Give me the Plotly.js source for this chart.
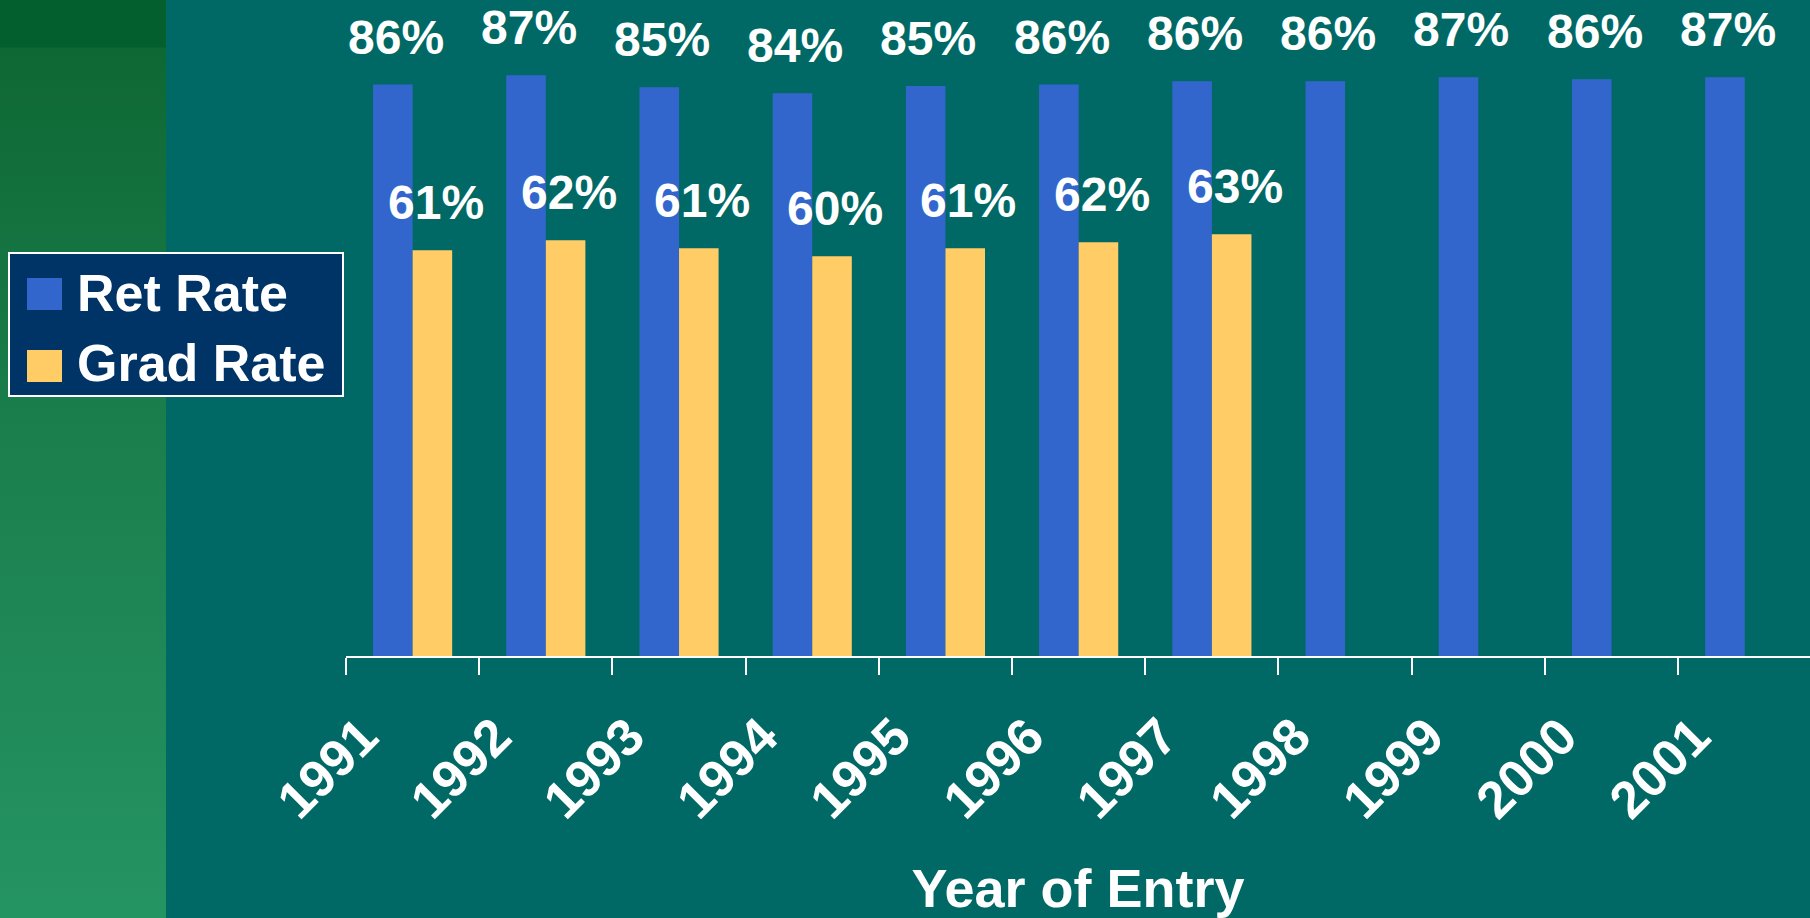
<!DOCTYPE html>
<html>
<head>
<meta charset="utf-8">
<script src="https://cdn.plot.ly/plotly-3.0.1.min.js"></script>
<style>
  html, body { margin: 0; padding: 0; width: 1810px; height: 918px; overflow: hidden; }
  body {
    background:
      linear-gradient(to bottom, #045f2e 0px, #045f2e 47px, #0e6833 48px, #1a7e4c 420px, #259463 918px) no-repeat 0 0 / 166px 918px,
      #006966;
  }
  #chart { width: 1810px; height: 918px; }
</style>
</head>
<body>
<div id="chart"></div>
<script>
// ---- data ----
const years = ['1991', '1992', '1993', '1994', '1995', '1996', '1997', '1998', '1999', '2000', '2001'];
const retRate = [85.6, 87.0, 85.2, 84.3, 85.4, 85.6, 86.1, 86.1, 86.7, 86.4, 86.7];
const gradRate = [60.8, 62.3, 61.1, 59.9, 61.1, 62.0, 63.2, null, null, null, null];
const seriesNames = ['Ret Rate', 'Grad Rate'];
const xTitle = 'Year of Entry';

// ---- style ----
const W = 1810, H = 918;
const M = { l: 346, r: 0, t: 0, b: 262 };
const plotW = W - M.l - M.r, plotH = H - M.t - M.b;
const BLUE = '#3366cc', YELLOW = '#ffcc66', NAVY = '#003366', WHITE = '#ffffff';
const FONT = 'Liberation Sans, Arial, sans-serif';
const px = p => (p - M.l) / plotW;          // pixel x -> paper x
const py = p => (H - M.b - p) / plotH;      // pixel y -> paper y

const traces = [
  { type: 'bar', name: seriesNames[0], x: years, y: retRate, marker: { color: BLUE },
    legendgroup: 'a', hoverinfo: 'x+y' },
  { type: 'bar', name: seriesNames[1], x: years, y: gradRate, marker: { color: YELLOW },
    legendgroup: 'b', hoverinfo: 'x+y' }
];

const labelFont = { family: FONT, size: 48, color: WHITE, weight: 'bold' };
const annotations = [];
years.forEach((yr, i) => {
  if (retRate[i] != null) annotations.push({ xref: 'x', yref: 'y', x: i, y: retRate[i], text: Math.round(retRate[i]) + '%',
    showarrow: false, xanchor: 'center', yanchor: 'bottom', xshift: -17, yshift: 19, font: labelFont });
  if (gradRate[i] != null) annotations.push({ xref: 'x', yref: 'y', x: i, y: gradRate[i], text: Math.round(gradRate[i]) + '%',
    showarrow: false, xanchor: 'center', yanchor: 'bottom', xshift: 23, yshift: 19, font: labelFont });
});

const shapes = [
  { type: 'rect', xref: 'paper', yref: 'paper', x0: px(9), x1: px(343), y0: py(396), y1: py(253),
    fillcolor: NAVY, line: { color: WHITE, width: 2 }, layer: 'above' },
  { type: 'rect', xref: 'paper', yref: 'paper', x0: px(27), x1: px(62), y0: py(310), y1: py(278),
    fillcolor: BLUE, line: { width: 0 }, layer: 'above' },
  { type: 'rect', xref: 'paper', yref: 'paper', x0: px(27), x1: px(62), y0: py(382), y1: py(350),
    fillcolor: YELLOW, line: { width: 0 }, layer: 'above' }
];

const layout = {
  width: W, height: H,
  margin: M,
  paper_bgcolor: 'rgba(0,0,0,0)',
  plot_bgcolor: 'rgba(0,0,0,0)',
  font: { family: FONT, color: WHITE, weight: 'bold' },
  barmode: 'group',
  bargap: 0.406,
  bargroupgap: 0,
  showlegend: true,
  legend: {
    xref: 'paper', yref: 'paper', x: px(12), y: py(250), xanchor: 'left', yanchor: 'top',
    bgcolor: 'rgba(0,0,0,0)', borderwidth: 0, itemwidth: 55, tracegroupgap: 10,
    font: { family: FONT, size: 52, color: WHITE, weight: 'bold' }, traceorder: 'normal'
  },
  xaxis: {
    type: 'category',
    range: [-0.5, years.length - 0.51],
    autorange: false,
    tickson: 'boundaries',
    ticks: 'outside', ticklen: 17, tickwidth: 2, tickcolor: WHITE,
    showline: true, linecolor: WHITE, linewidth: 2,
    showgrid: false, zeroline: false,
    tickangle: -45,
    tickfont: { family: FONT, size: 52, color: WHITE, weight: 'bold' },
    ticklabelshift: -50, ticklabelstandoff: 27,
    automargin: false,
    title: { text: xTitle, font: { family: FONT, size: 54, color: WHITE, weight: 'bold' }, standoff: 58 }
  },
  yaxis: {
    range: [0, plotH / 6.675],
    autorange: false,
    showticklabels: false, showgrid: false, zeroline: false, showline: false, ticks: '',
    automargin: false
  },
  annotations: annotations,
  shapes: shapes
};

Plotly.newPlot('chart', traces, layout, { displayModeBar: false, staticPlot: true });
</script>
</body>
</html>
